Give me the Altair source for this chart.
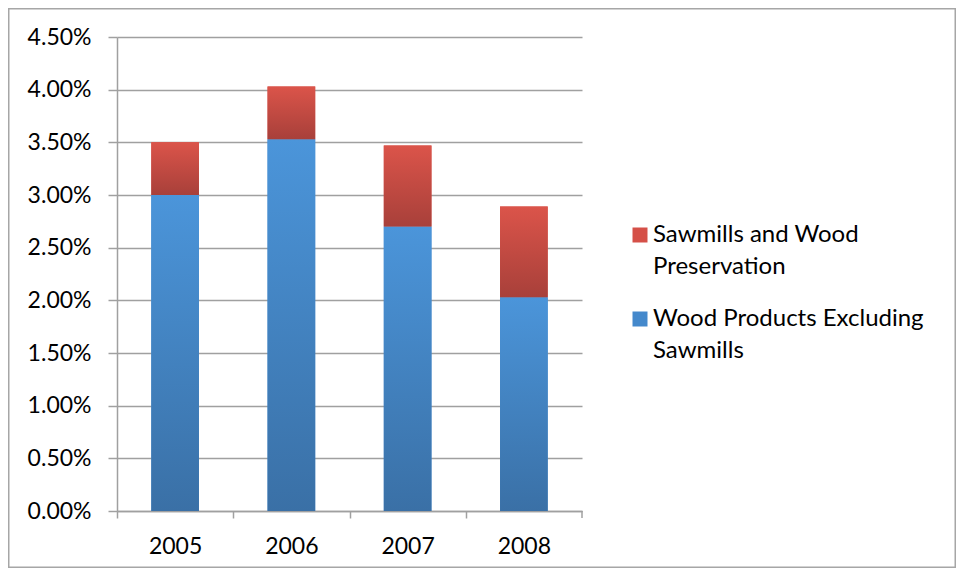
import altair as alt
import pandas as pd

years = ["2005", "2006", "2007", "2008"]
wood_products = [0.0300, 0.0353, 0.0270, 0.0203]
sawmills = [0.0050, 0.0050, 0.0077, 0.0086]
series_names = ["Sawmills and Wood Preservation", "Wood Products Excluding Sawmills"]
y_ticks = [0.0, 0.005, 0.01, 0.015, 0.02, 0.025, 0.03, 0.035, 0.04, 0.045]

font = "Lato"
grey = "#a0a0a0"
width = 465
height = 474
half_step = width / len(years) / 2

rows = []
for yr, wp, sm in zip(years, wood_products, sawmills):
    rows.append({"year": yr, "series": series_names[1], "lo": 0.0, "hi": wp})
    rows.append({"year": yr, "series": series_names[0], "lo": wp, "hi": wp + sm})
df = pd.DataFrame(rows)

blue_grad = alt.LinearGradient(
    gradient="linear", x1=0, y1=0, x2=0, y2=1,
    stops=[alt.GradientStop(color="#4b95da", offset=0),
           alt.GradientStop(color="#3a70a6", offset=1)])
red_grad = alt.LinearGradient(
    gradient="linear", x1=0, y1=0, x2=0, y2=1,
    stops=[alt.GradientStop(color="#db544a", offset=0),
           alt.GradientStop(color="#a8403a", offset=1)])

# ticks sit between the categories, labels stay centred
x_enc = alt.X("year:N", title=None, sort=years,
              scale=alt.Scale(paddingInner=0.59, paddingOuter=0.295),
              axis=alt.Axis(labelAngle=0, tickSize=7, tickOffset=-half_step,
                            labelOffset=half_step, labelPadding=17,
                            domainColor=grey, tickColor=grey,
                            domainWidth=1.5, tickWidth=1.5))
y_enc = alt.Y("lo:Q", title=None,
              scale=alt.Scale(domain=[0, 0.045], nice=False),
              axis=alt.Axis(format=".2%", values=y_ticks, tickSize=9, labelPadding=17,
                            domainColor=grey, tickColor=grey, gridColor=grey,
                            domainWidth=1.5, tickWidth=1.5, gridWidth=1.5))

base = alt.Chart(df)

legend_bars = base.mark_bar().encode(
    x=x_enc, y=y_enc, y2="hi:Q",
    color=alt.Color("series:N",
                    scale=alt.Scale(domain=series_names, range=["#d55048", "#4489cc"]),
                    legend=alt.Legend(
                        title=None, orient="none", legendX=511, legendY=186,
                        symbolType="square", symbolSize=225, symbolStrokeWidth=0,
                        labelOffset=1, rowPadding=28, labelLimit=400,
                        labelExpr="datum.label == 'Sawmills and Wood Preservation' ? "
                                  "['Sawmills and Wood', 'Preservation'] : "
                                  "['Wood Products Excluding', 'Sawmills']")))

blue_bars = base.transform_filter(
    alt.datum.series == series_names[1]
).mark_bar(color=blue_grad).encode(x=x_enc, y=y_enc, y2="hi:Q")

red_bars = base.transform_filter(
    alt.datum.series == series_names[0]
).mark_bar(color=red_grad).encode(x=x_enc, y=y_enc, y2="hi:Q")

# last tick at the right end of the x axis
end_tick = alt.Chart(pd.DataFrame({"k": [0]})).mark_rule(
    color=grey, strokeWidth=1.5
).encode(x=alt.value(width), y=alt.value(height), y2=alt.value(height + 7))

frame = alt.Chart(pd.DataFrame({"k": [0]})).mark_rect(
    fill=None, stroke="#a6a6a6", strokeWidth=1.5
).encode(
    x=alt.value(-108.25), x2=alt.value(838.25),
    y=alt.value(-28.25), y2=alt.value(530.25))

chart = alt.layer(legend_bars, blue_bars, red_bars, end_tick, frame).properties(
    width=width, height=height,
    autosize=alt.AutoSizeParams(type="none"),
    padding={"left": 109, "top": 29, "right": 374, "bottom": 57},
).configure(
    font=font,
    style={"guide-label": {"lineHeight": 32}},
).configure_view(
    stroke=None
).configure_axis(
    labelFontSize=23, labelColor="#000000", labelFont=font,
).configure_axisY(
    grid=True
).configure_axisX(
    grid=False
).configure_legend(
    labelFontSize=24, labelColor="#000000", labelFont=font,
)

chart.save("out.html", embed_options={"renderer": "svg", "actions": False})
